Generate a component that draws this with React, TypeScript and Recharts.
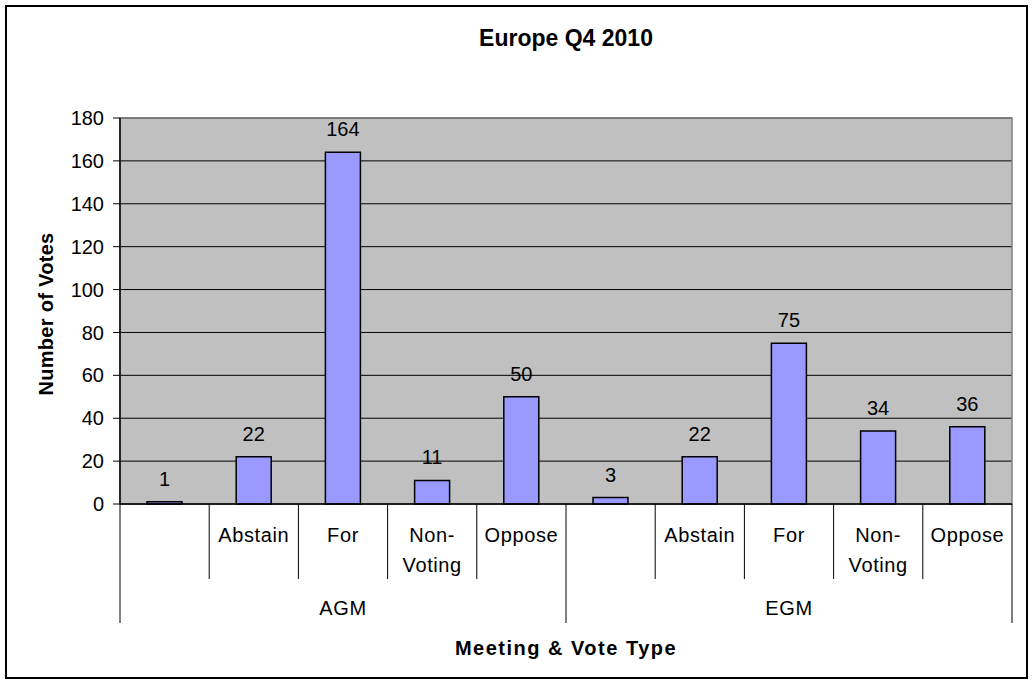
import React from "react";
import {
  BarChart, Bar, XAxis, YAxis, CartesianGrid, LabelList, ReferenceArea,
} from "recharts";

const meetings = ["AGM", "EGM"];
const voteTypes = ["", "Abstain", "For", "Non-Voting", "Oppose"];
const agmVotes = [1, 22, 164, 11, 50];
const egmVotes = [3, 22, 75, 34, 36];
const yTicks = [0, 20, 40, 60, 80, 100, 120, 140, 160, 180];

const seriesByMeeting = [agmVotes, egmVotes];
const data = meetings.flatMap((m, mi) =>
  voteTypes.map((t, ti) => ({ meeting: m, type: t, votes: seriesByMeeting[mi][ti] }))
);

const W = 1033;
const H = 682;
const MARGIN = { top: 118, right: 21, bottom: 59, left: 20 };
const Y_AXIS_W = 100;
const TYPE_AXIS_H = 75;
const MEETING_AXIS_H = 44;
const PLOT_W = W - MARGIN.left - MARGIN.right - Y_AXIS_W;
const PLOT_BOTTOM = H - MARGIN.bottom - MEETING_AXIS_H - TYPE_AXIS_H;
const BAND = PLOT_W / data.length;
const FONT = "'Liberation Sans', Arial, sans-serif";

function TypeTick(props: any) {
  const { x, payload } = props;
  const index = props.index ?? payload.index;
  const left = x - BAND / 2;
  const lines = String(payload.value).includes("-")
    ? String(payload.value).replace("-", "-\n").split("\n")
    : [String(payload.value)];
  const groupEdge = index % voteTypes.length === 0;
  return (
    <g>
      <line x1={left} x2={left} y1={PLOT_BOTTOM} y2={PLOT_BOTTOM + (groupEdge ? TYPE_AXIS_H + MEETING_AXIS_H : TYPE_AXIS_H)} stroke="#000" />
      {index === data.length - 1 && (
        <line x1={x + BAND / 2} x2={x + BAND / 2} y1={PLOT_BOTTOM} y2={PLOT_BOTTOM + TYPE_AXIS_H + MEETING_AXIS_H} stroke="#000" />
      )}
      {lines.map((l, i) => (
        <text key={i} x={x} y={PLOT_BOTTOM + 31 + i * 30} textAnchor="middle" dominantBaseline="central"
          fontSize={20} letterSpacing={0.6} fill="#000" fontFamily={FONT}>
          {l}
        </text>
      ))}
    </g>
  );
}

function MeetingTick(props: any) {
  const { x, payload } = props;
  const index = props.index ?? payload.index;
  if (index % voteTypes.length !== 2) return null;
  return (
    <text x={x} y={PLOT_BOTTOM + TYPE_AXIS_H + 29} textAnchor="middle" dominantBaseline="central"
      fontSize={20} letterSpacing={0.6} fill="#000" fontFamily={FONT}>
      {payload.value}
    </text>
  );
}

function YTitle(props: any) {
  const vb = props.viewBox || { x: MARGIN.left, y: MARGIN.top, width: Y_AXIS_W, height: 386 };
  const cx = vb.x + 26;
  const cy = vb.y + vb.height / 2 + 3;
  return (
    <text x={cx} y={cy} transform={`rotate(-90 ${cx} ${cy})`} textAnchor="middle" dominantBaseline="central"
      fontSize={20} fontWeight="bold" letterSpacing={0.3} fill="#000" fontFamily={FONT}>
      Number of Votes
    </text>
  );
}

export default function App() {
  return (
    <div style={{ position: "relative", width: W, height: H, background: "#fff", fontFamily: FONT }}>
      <style>{"body{margin:0}"}</style>
      <div style={{ position: "absolute", left: 5, top: 5, width: 1019, height: 670, border: "2px solid #000", pointerEvents: "none" }} />
      <div style={{ position: "absolute", left: MARGIN.left + Y_AXIS_W, width: PLOT_W, top: 23, textAlign: "center", fontSize: 23, fontWeight: "bold", lineHeight: "30px" }}>
        Europe Q4 2010
      </div>
      <BarChart width={W} height={H} data={data} margin={MARGIN} barSize={35}>
        <CartesianGrid vertical={false} stroke="#000" fill="#C0C0C0" />
        <XAxis dataKey="type" interval={0} height={TYPE_AXIS_H} tickLine={false}
          axisLine={{ stroke: "#000", strokeWidth: 1.5 }} tick={<TypeTick />} />
        <XAxis xAxisId="group" dataKey="meeting" interval={0} height={MEETING_AXIS_H}
          axisLine={false} tickLine={false} tick={<MeetingTick />}
          label={{ value: "Meeting & Vote Type", position: "bottom", offset: 18, fontSize: 20, fontWeight: "bold", letterSpacing: 1.5, fill: "#000", fontFamily: FONT }} />
        <YAxis domain={[0, 180]} ticks={yTicks} width={Y_AXIS_W} interval={0}
          tickSize={7} tickMargin={9} tickLine={{ stroke: "#000" }}
          axisLine={{ stroke: "#000", strokeWidth: 1.5 }}
          tick={{ fontSize: 20, fill: "#000", fontFamily: FONT }}
          label={{ content: <YTitle /> }} />
        <ReferenceArea y1={0} y2={180} fill="none" stroke="#808080" strokeWidth={1.5} ifOverflow="visible" />
        <Bar dataKey="votes" fill="#9999FF" stroke="#000" strokeWidth={1.5} isAnimationActive={false}>
          <LabelList dataKey="votes" position="top" offset={16} fontSize={20} fill="#000" fontFamily={FONT} />
        </Bar>
      </BarChart>
    </div>
  );
}
